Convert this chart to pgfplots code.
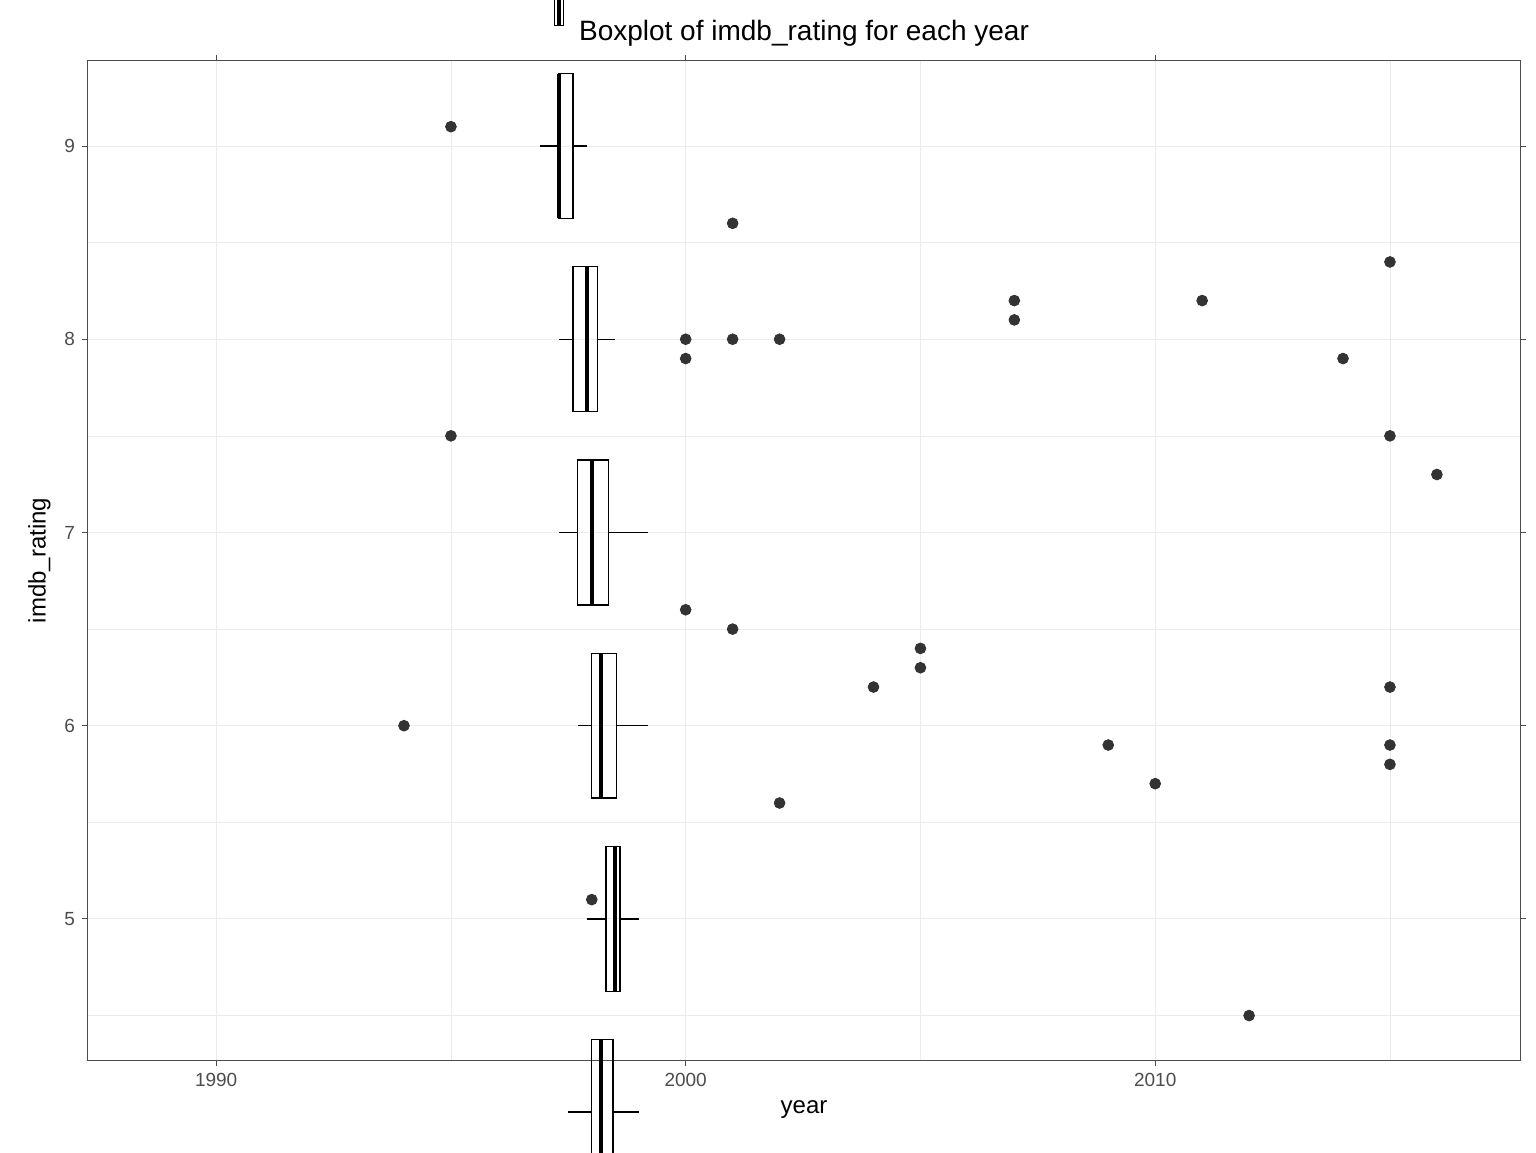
\documentclass[border=0pt]{standalone}
\usepackage{pgfplots}
\pgfplotsset{compat=1.18}
\usepgfplotslibrary{statistics}
\usepackage{fontspec}
\setmainfont{Liberation Sans}
\definecolor{gridc}{gray}{0.92}
\definecolor{tickc}{gray}{0.3}
\definecolor{ptc}{HTML}{333333}
\newcommand{\bx}[6]{\addplot[black,line width=0.7pt,boxplot prepared={draw position=#1,lower whisker=#2,lower quartile=#3,median=#4,upper quartile=#5,upper whisker=#6}] coordinates {};}
\begin{document}
\begin{tikzpicture}
\useasboundingbox (-44pt,-46pt) rectangle (724pt,530pt);
\begin{axis}[
  at={(0,0)}, anchor=south west,
  scale only axis, width=716pt, height=499.5pt,
  xmin=-2.73, xmax=27.77, ymin=4.27, ymax=9.44,
  xtick={0,10,20}, xticklabels={1990,2000,2010}, minor xtick={5,15,25},
  ytick={5,6,7,8,9}, minor ytick={4.5,5.5,6.5,7.5,8.5},
  grid=both, major grid style={gridc,line width=0.5pt}, minor grid style={gridc,line width=0.3pt},
  axis line style={gray!60!black,line width=0.5pt},
  tick align=outside, tick style={tickc,line width=0.5pt}, major tick length=3pt, minor tick length=0pt,
  xticklabel style={font=\fontsize{9.5}{11}\selectfont,text=tickc},
  yticklabel style={font=\fontsize{9.5}{11}\selectfont,text=tickc},
  /pgf/number format/assume math mode=true,
  xlabel={year}, ylabel={imdb\_rating},
  label style={font=\fontsize{12}{14}\selectfont},
  title={Boxplot of imdb\_rating for each year},
  title style={font=\fontsize{14}{16}\selectfont,yshift=-2pt},
  boxplot/box extend=0.75, boxplot/whisker extend=0,
  boxplot/every median/.style={line width=1.9pt},
  clip=false,
]
\bx{-1}{8.2}{8.2}{8.2}{8.2}{8.2}
\bx{0}{7.4}{7.7}{7.9}{8.1}{8.4}
\bx{1}{7.5}{7.9}{8.2}{8.4}{8.8}
\bx{2}{7.7}{7.95}{8.2}{8.45}{9.0}
\bx{3}{7.2}{8.1}{8.3}{8.7}{9.0}
\bx{4}{7.5}{8.0}{8.2}{8.45}{9.0}
\bx{5}{7.9}{8.3}{8.5}{8.6}{9.0}
\bx{6}{7.7}{8.0}{8.2}{8.525}{9.2}
\bx{7}{7.3}{7.7}{8.0}{8.35}{9.2}
\bx{8}{7.3}{7.6}{7.9}{8.125}{8.5}
\bx{9}{6.9}{7.3}{7.3}{7.6}{7.9}
\bx{10}{6.9}{7.2}{7.3}{7.4}{7.7}
\bx{11}{6.9}{7.1}{7.2}{7.45}{7.7}
\bx{12}{6.5}{6.925}{7.1}{7.3}{7.7}
\bx{13}{6.6}{6.9}{7.1}{7.25}{7.7}
\bx{14}{6.6}{6.9}{7.1}{7.3}{7.4}
\bx{15}{6.7}{6.9}{7.0}{7.2}{7.4}
\bx{16}{6.4}{6.7}{6.85}{7.1}{7.5}
\bx{17}{6.3}{6.75}{7.1}{7.2}{7.3}
\bx{18}{6.1}{6.6}{6.9}{7.1}{7.7}
\bx{19}{6.3}{6.7}{7.0}{7.2}{7.3}
\bx{20}{6.3}{6.675}{6.85}{7.025}{7.2}
\bx{21}{6.1}{6.625}{6.95}{7.2}{7.8}
\bx{22}{5.7}{6.5}{6.9}{7.1}{7.4}
\bx{23}{6.2}{6.5}{6.85}{7.0}{7.2}
\bx{24}{5.8}{6.5}{6.8}{7.05}{7.7}
\bx{25}{6.3}{6.625}{6.8}{6.9}{7.3}
\bx{26}{6.3}{6.425}{6.6}{6.775}{7.1}
\addplot[only marks,mark=*,mark size=2.7pt,ptc] coordinates {
(4,6.0) (5,9.1) (5,7.5) (8,5.1)
(10,8.0) (10,7.9) (10,6.6) (11,8.6) (11,8.0) (11,6.5)
(12,8.0) (12,5.6) (14,6.2) (15,6.4) (15,6.3)
(17,8.2) (17,8.1) (19,5.9) (20,5.7) (21,8.2) (22,4.5)
(24,7.9) (25,8.4) (25,7.5) (25,6.2) (25,5.9) (25,5.8) (26,7.3)};
\end{axis}
\end{tikzpicture}
\end{document}
